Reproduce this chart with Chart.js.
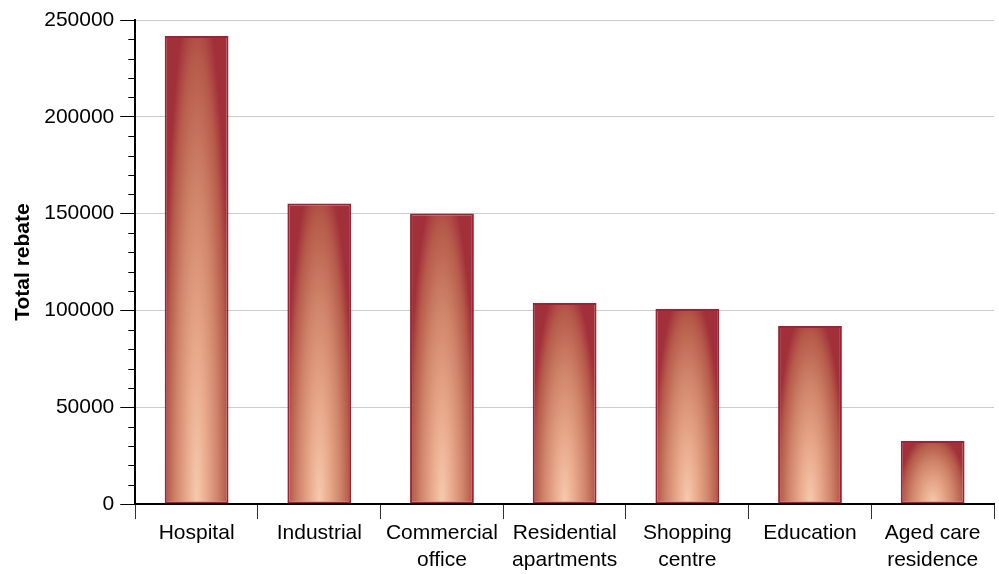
<!DOCTYPE html>
<html>
<head>
<meta charset="utf-8">
<script src="https://cdn.jsdelivr.net/npm/chart.js@4/dist/chart.umd.min.js"></script>
<style>
html,body{margin:0;padding:0;background:#fff;}
#wrap{width:999px;height:574px;}
</style>
</head>
<body>
<div id="wrap"><canvas id="c" width="999" height="574"></canvas></div>
<script>
const categories = ['Hospital', 'Industrial', ['Commercial', 'office'], ['Residential', 'apartments'], ['Shopping', 'centre'], 'Education', ['Aged care', 'residence']];
const totalRebate = [241800, 155200, 150100, 103900, 100700, 92000, 32600];
const yTicks = [0, 50000, 100000, 150000, 200000, 250000];
const yMinorStep = 10000;
const yAxisTitle = 'Total rebate';

const FONT = "'Liberation Sans', Arial, sans-serif";

const gradientPlugin = {
  id: 'barGradient',
  beforeDatasetsDraw(chart) {
    const ctx = chart.ctx;
    const meta = chart.getDatasetMeta(0);
    meta.data.forEach(el => {
      const w = Math.max(1, Math.round(el.width));
      const top = Math.min(el.y, el.base);
      const h = Math.max(1, Math.round(Math.abs(el.base - el.y)));
      const left = el.x - el.width / 2;
      const off = document.createElement('canvas');
      off.width = w; off.height = h;
      const o = off.getContext('2d');
      o.save();
      o.translate(w / 2, h);
      o.scale(w / 2 * 1.1, h * 1.12);
      const g = o.createRadialGradient(0, 0, 0, 0, 0, 1);
      g.addColorStop(0, '#f6caae');
      g.addColorStop(0.3, '#e8a88a');
      g.addColorStop(0.6, '#cf8469');
      g.addColorStop(0.85, '#b65a4a');
      g.addColorStop(1, '#a2303a');
      o.fillStyle = g;
      o.fillRect(-1.2, -1.2, 2.4, 2.4);
      o.restore();
      const p = ctx.createPattern(off, 'no-repeat');
      p.setTransform(new DOMMatrix([1, 0, 0, 1, left, top]));
      el.options.backgroundColor = p;
    });
  }
};

const minorTickPlugin = {
  id: 'minorTicks',
  afterDraw(chart) {
    const y = chart.scales.y;
    const ctx = chart.ctx;
    const x0 = chart.chartArea.left;
    ctx.save();
    ctx.strokeStyle = '#000';
    ctx.lineWidth = 1;
    for (let v = 0; v <= y.max; v += yMinorStep) {
      if (v % 50000 === 0) continue;
      const py = Math.round(y.getPixelForValue(v)) + 0.5;
      ctx.beginPath();
      ctx.moveTo(x0 - 7, py);
      ctx.lineTo(x0, py);
      ctx.stroke();
    }
    ctx.restore();
  }
};

new Chart(document.getElementById('c'), {
  type: 'bar',
  data: {
    labels: categories,
    datasets: [{
      data: totalRebate,
      backgroundColor: () => '#c87060',
      borderColor: '#9e2233',
      borderWidth: 2,
      borderSkipped: false,
      barPercentage: 0.52,
      categoryPercentage: 1.0
    }]
  },
  options: {
    responsive: false,
    animation: false,
    devicePixelRatio: 1,
    layout: { padding: { left: 11, right: 5, top: 20, bottom: 0 } },
    plugins: { legend: { display: false }, tooltip: { enabled: false } },
    scales: {
      x: {
        grid: { display: true, drawOnChartArea: false, offset: true, tickLength: 15, tickColor: '#333', tickWidth: 1 },
        border: { display: true, color: '#000', width: 2 },
        ticks: { color: '#000', font: { family: FONT, size: 21, lineHeight: 1.26 }, padding: 1, maxRotation: 0, autoSkip: false }
      },
      y: {
        min: 0,
        max: 250000,
        afterBuildTicks: s => { s.ticks = yTicks.map(v => ({ value: v })); },
        grid: { color: '#cccccc', lineWidth: 1, tickLength: 15, tickColor: '#000', tickWidth: 1 },
        border: { display: true, color: '#000', width: 2 },
        ticks: { color: '#000', font: { family: FONT, size: 21 }, padding: 6, callback: v => String(v) },
        title: { display: true, text: yAxisTitle, color: '#000', font: { family: FONT, size: 21, weight: 'bold' }, padding: { top: 0, bottom: 2 } }
      }
    }
  },
  plugins: [gradientPlugin, minorTickPlugin]
});
</script>
</body>
</html>
